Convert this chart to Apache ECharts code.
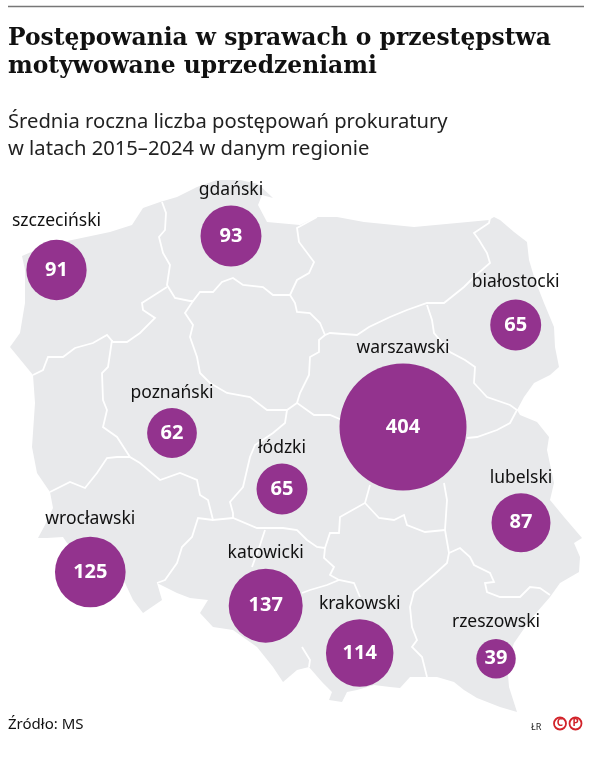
<!DOCTYPE html>
<html>
<head>
<meta charset="utf-8">
<style>
  html, body { margin: 0; padding: 0; background: #fff; }
  #chart { width: 597px; height: 760px; }
</style>
<script src="https://cdn.jsdelivr.net/npm/echarts@6/dist/echarts.min.js"></script>
</head>
<body>
<div id="chart"></div>
<script>
const regions = ['szczeciński', 'gdański', 'białostocki', 'warszawski', 'poznański', 'łódzki', 'wrocławski', 'katowicki', 'krakowski', 'lubelski', 'rzeszowski'];
const values = [91, 93, 65, 404, 62, 65, 125, 137, 114, 87, 39];
// polozenie regionow na mapie
const regionX = [56.5, 231, 515.7, 403, 172, 282, 90.3, 265.7, 359.7, 521, 496];
const regionY = [270, 236, 325, 427, 433, 489, 572, 605.7, 653, 522.7, 658.7];

const titleLines = ['Postępowania w sprawach o przestępstwa', 'motywowane uprzedzeniami'];
const subtitleLines = ['Średnia roczna liczba postępowań prokuratury', 'w latach 2015–2024 w danym regionie'];

// kontur kraju
const outline = [
  [22,256],[45,246],[72,240],[110,232],[132,225],[143,208],[160,202],[177,197],[197,187],[217,180],[240,180],[258,184],[273,198],[262,195],[258,205],[267,222],
  [300,225],[317,217],[337,217],[364,222],[414,227],[457,223],[489,220],[494,217],[500,220],[514,232],[527,242],[529,260],[535,280],[544,303],[554,327],[555,347],[559,367],
  [550,375],[534,383],[524,397],[517,410],[520,415],[537,422],[549,437],[547,450],[554,483],[550,500],[564,517],[582,538],[574,543],[580,557],[579,572],[560,583],[550,597],
  [530,620],[514,643],[507,663],[509,687],[517,712],[500,707],[477,698],[464,690],[454,682],[437,677],[425,677],[410,677],[400,688],[390,687],[374,685],[357,690],[347,692],
  [342,702],[329,700],[332,692],[322,682],[309,667],[297,670],[283,682],[273,667],[257,647],[233,630],[213,627],[200,613],[208,600],[190,598],[177,593],[157,583],[162,600],
  [143,613],[133,600],[125,583],[100,570],[67,543],[63,537],[47,538],[38,538],[45,525],[53,508],[50,492],[37,473],[32,447],[35,403],[33,375],[10,347],[20,333],[25,303],[25,270]
];

// granice okregow
const borders = [
  [[162,202],[166,213],[165,230],[159,237],[163,253],[170,265],[167,285],[175,298],[190,301],[193,301],[200,292],[213,292],[222,282],[233,278],[243,285],[263,287],[273,295],[290,295],[295,303],[297,312],[310,313],[320,323],[325,335],[330,333],[357,335],[369,327],[390,317],[407,310],[427,303],[444,303],[464,287],[474,277],[490,263],[487,253],[479,240],[474,233],[489,223],[490,218]],
  [[317,217],[297,228],[299,242],[314,262],[309,273],[297,280],[290,295]],
  [[427,305],[432,320],[434,333],[450,352],[465,360],[475,367],[474,383],[487,397],[510,405],[517,410],[510,423],[497,430],[477,437],[467,438]],
  [[325,335],[319,340],[319,352],[310,357],[309,375],[300,393],[297,403],[314,415],[330,415],[342,420]],
  [[193,301],[185,313],[193,325],[190,337],[197,357],[200,373],[210,383],[227,393],[250,397],[267,410],[287,410],[297,403]],
  [[287,410],[285,423],[273,433],[255,445],[250,457],[243,487],[230,502],[233,513],[233,518]],
  [[167,287],[142,303],[143,310],[155,318],[140,333],[127,342],[113,342],[107,335],[93,343],[75,348],[63,357],[48,357],[43,370],[33,375]],
  [[112,340],[108,367],[102,373],[103,400],[107,410],[103,427],[117,437],[130,457],[140,463],[160,480],[180,473],[197,480],[200,495],[208,500],[213,520],[233,518],[257,528],[267,528],[283,528],[297,530],[307,540],[317,547],[325,548]],
  [[130,457],[117,457],[107,458],[97,473],[85,488],[70,482],[50,492]],
  [[213,520],[198,518],[192,537],[182,547],[177,563],[165,580],[157,583]],
  [[265,530],[260,545],[252,567]],
  [[370,485],[365,503],[340,517],[339,533],[330,533],[325,548],[324,558],[334,567],[330,575],[339,580],[354,583],[360,597]],
  [[339,580],[327,585],[310,590],[302,593]],
  [[302,647],[310,660],[309,667]],
  [[365,503],[379,518],[394,520],[404,515],[407,525],[425,532],[445,530]],
  [[444,483],[447,500],[445,530],[449,553],[447,563],[437,572],[414,592],[410,607],[412,627],[417,640],[412,647],[422,657],[427,677]],
  [[449,553],[460,548],[470,557],[474,565],[490,573],[494,582],[485,583],[487,592],[500,597],[520,597],[530,587],[540,588],[550,595]]
];

const bubbleScale = 6.32;
const sansFont = '"Noto Sans", sans-serif';
const serifFont = '"DejaVu Serif", serif';
// odstep nazwy od kola
const nameGaps = [10, 7, 9, 6, 6, 7, 9, 7, 6, 6, 8];

const bubbleData = regions.map((name, i) => ({ name, value: [regionX[i], regionY[i], values[i]] }));
const nameData = bubbleData.map((d, i) => ({ ...d, label: { distance: nameGaps[i] } }));
const sizeOf = val => Math.sqrt(val[2]) * bubbleScale;

const chart = echarts.init(document.getElementById('chart'));

const option = {
  animation: false,
  backgroundColor: '#fff',
  title: [
    ...titleLines.map((text, i) => ({
      text, left: 8, top: 24 + i * 28, padding: 0,
      textStyle: { fontFamily: serifFont, fontWeight: 'bold', fontSize: 23.4, color: '#111', lineHeight: 30 }
    })),
    ...subtitleLines.map((text, i) => ({
      text, left: 8, top: 109 + i * 27, padding: 0,
      textStyle: { fontFamily: sansFont, fontWeight: 'normal', fontSize: 20.2, color: '#222', lineHeight: 26 }
    })),
    {
      text: 'Źródło: MS', left: 8, top: 716, padding: 0,
      textStyle: { fontFamily: sansFont, fontWeight: 'normal', fontSize: 15, color: '#111', lineHeight: 18 }
    },
    {
      text: 'ŁR', left: 531, top: 721, padding: 0,
      textStyle: { fontFamily: sansFont, fontWeight: 'normal', fontSize: 9, color: '#222', lineHeight: 12 }
    }
  ],
  grid: { left: 0, right: 0, top: 0, bottom: 0 },
  xAxis: { type: 'value', min: 0, max: 597, show: false },
  yAxis: { type: 'value', min: 0, max: 760, inverse: true, show: false },
  graphic: [
    { type: 'line', shape: { x1: 8, y1: 6.5, x2: 584, y2: 6.5 }, style: { stroke: '#777', lineWidth: 1.5 } },
    { type: 'circle', shape: { cx: 560, cy: 723.5, r: 6 }, style: { fill: 'none', stroke: '#d2232a', lineWidth: 1.8 } },
    { type: 'circle', shape: { cx: 575.5, cy: 723.5, r: 6 }, style: { fill: 'none', stroke: '#d2232a', lineWidth: 1.8 } },
    { type: 'text', x: 560, y: 723.5, style: { text: 'C', font: 'bold 10px "Noto Sans"', fill: '#d2232a', align: 'center', verticalAlign: 'middle' } },
    { type: 'text', x: 575.5, y: 723.5, style: { text: 'P', font: 'bold 10px "Noto Sans"', fill: '#d2232a', align: 'center', verticalAlign: 'middle' } }
  ],
  series: [
    {
      type: 'custom',
      coordinateSystem: 'cartesian2d',
      silent: true,
      z: 1,
      data: [[0, 0]],
      renderItem: (params, api) => ({
        type: 'polygon',
        shape: { points: outline.map(p => api.coord(p)) },
        style: { fill: '#e8e9eb' }
      })
    },
    {
      type: 'lines',
      coordinateSystem: 'cartesian2d',
      polyline: true,
      silent: true,
      z: 2,
      lineStyle: { color: '#fff', width: 1.8, opacity: 1 },
      data: borders.map(coords => ({ coords }))
    },
    {
      // nazwy okregow nad kolami
      type: 'scatter',
      silent: true,
      z: 3,
      symbolSize: sizeOf,
      itemStyle: { color: 'transparent', opacity: 1 },
      label: {
        show: true, position: 'top', distance: 7,
        formatter: p => p.name,
        fontFamily: sansFont, fontSize: 17.5, color: '#111', opacity: 1
      },
      data: nameData
    },
    {
      type: 'scatter',
      z: 4,
      symbolSize: sizeOf,
      itemStyle: { color: '#93338e', opacity: 1 },
      label: {
        show: true, position: 'inside',
        formatter: p => String(p.value[2]),
        fontFamily: sansFont, fontWeight: 'bold', fontSize: 20, color: '#fff'
      },
      data: bubbleData
    }
  ]
};

chart.setOption(option);
window.addEventListener('resize', chart.resize);
</script>
</body>
</html>
